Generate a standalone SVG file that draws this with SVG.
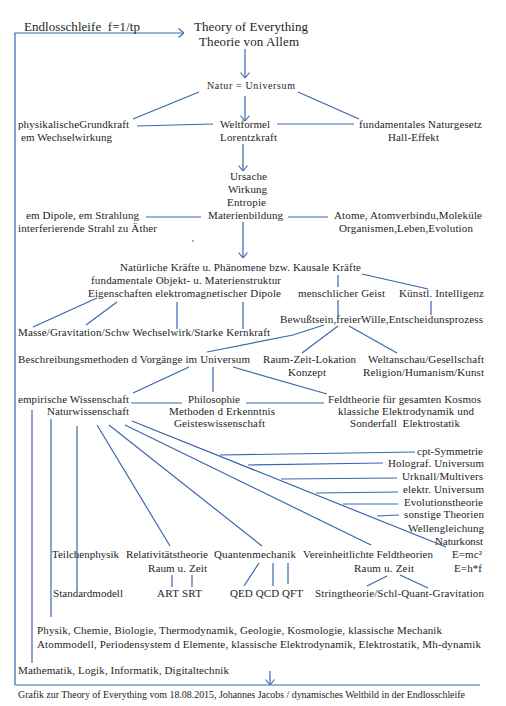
<svg xmlns="http://www.w3.org/2000/svg" width="506" height="706" viewBox="0 0 506 706">
<style>
text{font-family:"Liberation Serif","Times New Roman",serif;font-size:11px;fill:#1e1e1e;white-space:pre}
.big{font-size:13px}
.sm{font-size:10px}
.cap{font-size:10px}
.c path{fill:none;stroke:#3a66ad;stroke-width:1.2}
</style>
<defs>
<marker id="ah" viewBox="0 0 6 10" markerWidth="6" markerHeight="10" refX="6" refY="5" orient="auto" markerUnits="userSpaceOnUse">
<path d="M0.5,0.5 L6,5 L0.5,9.5" fill="none" stroke="#3a66ad" stroke-width="1.1"/>
</marker>
</defs>
<rect width="506" height="706" fill="#fff"/>
<g class="c" id="connectors">
<path d="M15,685 V33 H184" marker-end="url(#ah)"/>
<path d="M480,685 H15"/>
<path d="M270,671 V685" marker-end="url(#ah)"/>
<path d="M245,49 V78" marker-end="url(#ah)"/>
<path d="M199,92 L133,119"/>
<path d="M298,92 L359,119"/>
<path d="M245,96 V121" marker-end="url(#ah)"/>
<path d="M137,126 L213,124"/>
<path d="M277,124 L354,124"/>
<path d="M243,144 V171" marker-end="url(#ah)"/>
<path d="M146,217 H201"/>
<path d="M288,217 H328"/>
<path d="M243,222 V258" marker-end="url(#ah)"/>
<path d="M192,241 H194"/>
<path d="M362,274 L428,289"/>
<path d="M338,275 V287"/>
<path d="M338,300 V317"/>
<path d="M431,301 V315"/>
<path d="M97,298 L33,327"/>
<path d="M117,302 L86,325"/>
<path d="M177,302 V329"/>
<path d="M243,302 V329"/>
<path d="M324,325 L293,335 L207,352"/>
<path d="M338,326 L302,353"/>
<path d="M349,326 L397,353"/>
<path d="M189,367 L133,393"/>
<path d="M213,367 V392"/>
<path d="M233,367 L327,394"/>
<path d="M131,403 H182"/>
<path d="M246,403 H324"/>
<path d="M32,410 V663"/>
<path d="M51,419 V617"/>
<path d="M77,426 V590"/>
<path d="M97,425 L170,546"/>
<path d="M109,425 L262,546"/>
<path d="M125,425 L371,545"/>
<path d="M132,421 L446,547"/>
<path d="M220,455 L415,452"/>
<path d="M248,465 L383,463"/>
<path d="M281,479 L397,478"/>
<path d="M316,493 L398,492"/>
<path d="M343,504 L398,504"/>
<path d="M377,516 L399,515"/>
<path d="M172,575 V587"/>
<path d="M192,575 V587"/>
<path d="M259,563 L244,586"/>
<path d="M273,563 V586"/>
<path d="M288,563 V584"/>
<path d="M387,576 L367,586"/>
<path d="M400,575 L428,588"/>
</g>
<g id="loop"><text class="big" x="24" y="31" textLength="116">Endlosschleife  f=1/tp</text></g>
<g id="toe"><text class="big" x="194" y="31" textLength="114">Theory of Everything</text><text class="big" x="199" y="46" textLength="100">Theorie von Allem</text></g>
<g id="natur"><text class="sm" x="207" y="89" textLength="88">Natur = Universum</text></g>
<g id="grundkraft"><text x="18" y="128" textLength="111">physikalischeGrundkraft</text><text x="21" y="141" textLength="91">em Wechselwirkung</text></g>
<g id="weltformel"><text x="220" y="128" textLength="50">Weltformel</text><text x="220" y="141" textLength="57">Lorentzkraft</text></g>
<g id="naturgesetz"><text x="359" y="128" textLength="123">fundamentales Naturgesetz</text><text x="388" y="141" textLength="51">Hall-Effekt</text></g>
<g id="ursache"><text x="230" y="180" textLength="37">Ursache</text><text x="228" y="193" textLength="39">Wirkung</text><text x="227" y="206" textLength="39">Entropie</text><text x="208" y="219" textLength="75">Materienbildung</text></g>
<g id="dipole"><text x="26" y="219" textLength="113">em Dipole, em Strahlung</text><text x="18" y="232" textLength="139">interferierende Strahl zu Äther</text></g>
<g id="atome"><text x="334" y="219" textLength="148">Atome, Atomverbindu,Moleküle</text><text x="339" y="232" textLength="134">Organismen,Leben,Evolution</text></g>
<g id="kraefte"><text x="120" y="271" textLength="241">Natürliche Kräfte u. Phänomene bzw. Kausale Kräfte</text></g>
<g id="objekt"><text x="91" y="284" textLength="190">fundamentale Objekt- u. Materienstruktur</text><text x="88" y="297" textLength="193">Eigenschaften elektromagnetischer Dipole</text></g>
<g id="geist"><text x="298" y="297" textLength="87">menschlicher Geist</text></g>
<g id="ki"><text x="399" y="297" textLength="85">Künstl. Intelligenz</text></g>
<g id="bewusstsein"><text x="280" y="323" textLength="203">Bewußtsein,freierWille,Entscheidunsprozess</text></g>
<g id="masse"><text x="18" y="336" textLength="252">Masse/Gravitation/Schw Wechselwirk/Starke Kernkraft</text></g>
<g id="beschreibung"><text x="18" y="363" textLength="232">Beschreibungsmethoden d Vorgänge im Universum</text></g>
<g id="raumzeit"><text x="263" y="363" textLength="93">Raum-Zeit-Lokation</text><text x="288" y="376" textLength="38">Konzept</text></g>
<g id="weltanschau"><text x="368" y="363" textLength="116">Weltanschau/Gesellschaft</text><text x="363" y="376" textLength="121">Religion/Humanism/Kunst</text></g>
<g id="empirisch"><text x="18" y="403" textLength="111">empirische Wissenschaft</text><text x="47" y="415" textLength="82">Naturwissenschaft</text></g>
<g id="philosophie"><text x="188" y="403" textLength="52">Philosophie</text><text x="169" y="415" textLength="106">Methoden d Erkenntnis</text><text x="174" y="427" textLength="91">Geisteswissenschaft</text></g>
<g id="feldtheorie"><text x="328" y="403" textLength="153">Feldtheorie für gesamten Kosmos</text><text x="338" y="415" textLength="136">klassiche Elektrodynamik und</text><text x="350" y="427" textLength="110">Sonderfall  Elektrostatik</text></g>
<g id="cpt"><text x="417" y="455" textLength="66">cpt-Symmetrie</text></g>
<g id="holograf"><text x="388" y="467" textLength="96">Holograf. Universum</text></g>
<g id="urknall"><text x="402" y="480" textLength="81">Urknall/Multivers</text></g>
<g id="elektr"><text x="403" y="493" textLength="81">elektr. Universum</text></g>
<g id="evolution"><text x="404" y="506" textLength="79">Evolutionstheorie</text></g>
<g id="sonstige"><text x="404" y="518" textLength="80">sonstige Theorien</text></g>
<g id="wellen"><text x="408" y="532" textLength="76">Wellengleichung</text></g>
<g id="naturkonst"><text x="435" y="545" textLength="48">Naturkonst</text><text x="452" y="558" textLength="30">E=mc²</text><text x="454" y="572" textLength="28">E=h*f</text></g>
<g id="teilchen"><text x="52" y="558" textLength="67">Teilchenphysik</text></g>
<g id="relativ"><text x="126" y="558" textLength="82">Relativitätstheorie</text><text x="148" y="572" textLength="59">Raum u. Zeit</text></g>
<g id="quanten"><text x="214" y="558" textLength="82">Quantenmechanik</text></g>
<g id="vereinheit"><text x="303" y="558" textLength="130">Vereinheitlichte Feldtheorien</text><text x="354" y="572" textLength="60">Raum u. Zeit</text></g>
<g id="standard"><text x="53" y="597" textLength="70">Standardmodell</text></g>
<g id="art"><text x="157" y="597" textLength="45">ART SRT</text></g>
<g id="qed"><text x="230" y="597" textLength="73">QED QCD QFT</text></g>
<g id="string"><text x="315" y="597" textLength="169">Stringtheorie/Schl-Quant-Gravitation</text></g>
<g id="physik"><text x="37" y="634" textLength="405">Physik, Chemie, Biologie, Thermodynamik, Geologie, Kosmologie, klassische Mechanik</text><text x="37" y="648" textLength="444">Atommodell, Periodensystem d Elemente, klassische Elektrodynamik, Elektrostatik, Mh-dynamik</text></g>
<g id="mathe"><text x="18" y="674" textLength="211">Mathematik, Logik, Informatik, Digitaltechnik</text></g>
<g id="caption"><text class="cap" x="18" y="698" textLength="447">Grafik zur Theory of Everything vom 18.08.2015, Johannes Jacobs / dynamisches Weltbild in der Endlosschleife</text></g>
</svg>
